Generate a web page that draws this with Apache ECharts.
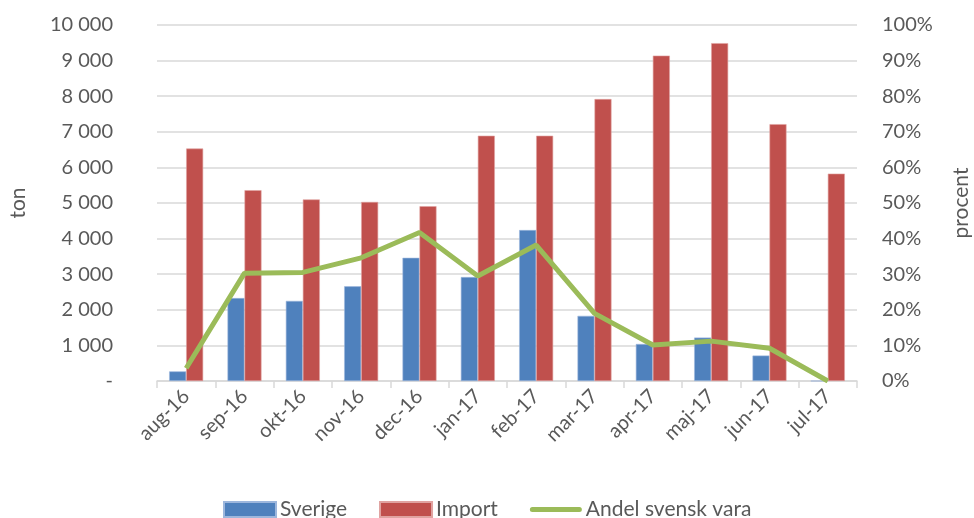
<!DOCTYPE html>
<html>
<head>
<meta charset="utf-8">
<script src="https://cdn.jsdelivr.net/npm/echarts@6/dist/echarts.min.js"></script>
<style>html,body{margin:0;padding:0;background:#fff}#c{width:974px;height:518px}</style>
</head>
<body>
<div id="c"></div>
<script>
var categories = ['aug-16','sep-16','okt-16','nov-16','dec-16','jan-17','feb-17','mar-17','apr-17','maj-17','jun-17','jul-17'];
var sverige = [270, 2330, 2250, 2660, 3460, 2920, 4240, 1830, 1040, 1220, 715, 0];
var importVals = [6530, 5360, 5100, 5030, 4910, 6890, 6890, 7920, 9140, 9490, 7215, 5825];
var andel = [0.036, 0.303, 0.305, 0.346, 0.417, 0.295, 0.382, 0.19, 0.101, 0.112, 0.092, 0];

var txt = '#595959';
var font = 'Lato';
var lineIcon = 'path://M0,0 L0.01,0 L0.01,0.01 Z M2.5,5 L49.5,5 A2.5,2.5 0 0 1 49.5,10 L2.5,10 A2.5,2.5 0 0 1 2.5,5 Z M0,15 L0.01,15 L0.01,14.99 Z';
var chart = echarts.init(document.getElementById('c'), null, {renderer:'canvas'});
chart.setOption({
  backgroundColor: '#fff',
  animation: false,
  textStyle: {fontFamily: font},
  grid: {left: 157, right: 117, top: 25, bottom: 137, containLabel: false, outerBoundsMode: 'none'},
  legend: {
    top: 494, left: 218,
    itemWidth: 52, itemHeight: 15, itemGap: 32,
    textStyle: {color: txt, fontSize: 21, fontFamily: font, padding: [0,0,0,-1]},
    data: [{name:'Sverige', icon:'rect'}, {name:'Import', icon:'rect'}, {name:'Andel svensk vara', icon: lineIcon}]
  },
  xAxis: {
    type: 'category', data: categories,
    axisLine: {lineStyle: {color: '#D9D9D9', width: 1.5}},
    axisTick: {show: true, length: 7, lineStyle: {color: '#D9D9D9', width: 1.5}},
    axisLabel: {rotate: 45, color: txt, fontSize: 20, fontFamily: font, margin: 12}
  },
  yAxis: [{
    type: 'value', min: 0, max: 10000, interval: 1000,
    name: 'ton', nameLocation: 'middle', nameGap: 128, nameRotate: 90,
    nameTextStyle: {color: txt, fontSize: 21, fontFamily: font},
    axisLine: {show: false}, axisTick: {show: false},
    splitLine: {lineStyle: {color: '#D9D9D9', width: 1.5}},
    axisLabel: {color: txt, fontSize: 20, fontFamily: font, margin: 44,
      formatter: function(v){ return v === 0 ? '-' : String(v).replace(/\B(?=(\d{3})+(?!\d))/g, ' '); }}
  }, {
    type: 'value', min: 0, max: 1, interval: 0.1,
    name: 'procent', nameLocation: 'middle', nameGap: 94, nameRotate: 90,
    nameTextStyle: {color: txt, fontSize: 21, fontFamily: font},
    axisLine: {show: false}, axisTick: {show: false}, splitLine: {show: false},
    axisLabel: {color: txt, fontSize: 20, fontFamily: font, margin: 25,
      formatter: function(v){ return Math.round(v*100) + '%'; }}
  }],
  series: [{
    name: 'Sverige', type: 'bar', data: sverige, barWidth: 17, barGap: '0%',
    itemStyle: {color: '#4F81BD', borderColor: '#9DB7DD', borderWidth: 0.6}
  }, {
    name: 'Import', type: 'bar', data: importVals, barWidth: 17, barGap: '0%',
    itemStyle: {color: '#C0504D', borderColor: '#E0A3A1', borderWidth: 0.6}
  }, {
    name: 'Andel svensk vara', type: 'line', yAxisIndex: 1, data: andel,
    symbol: 'none', lineStyle: {color: '#9BBB59', width: 5},
    itemStyle: {color: '#9BBB59'}
  }]
});
</script>
</body>
</html>
